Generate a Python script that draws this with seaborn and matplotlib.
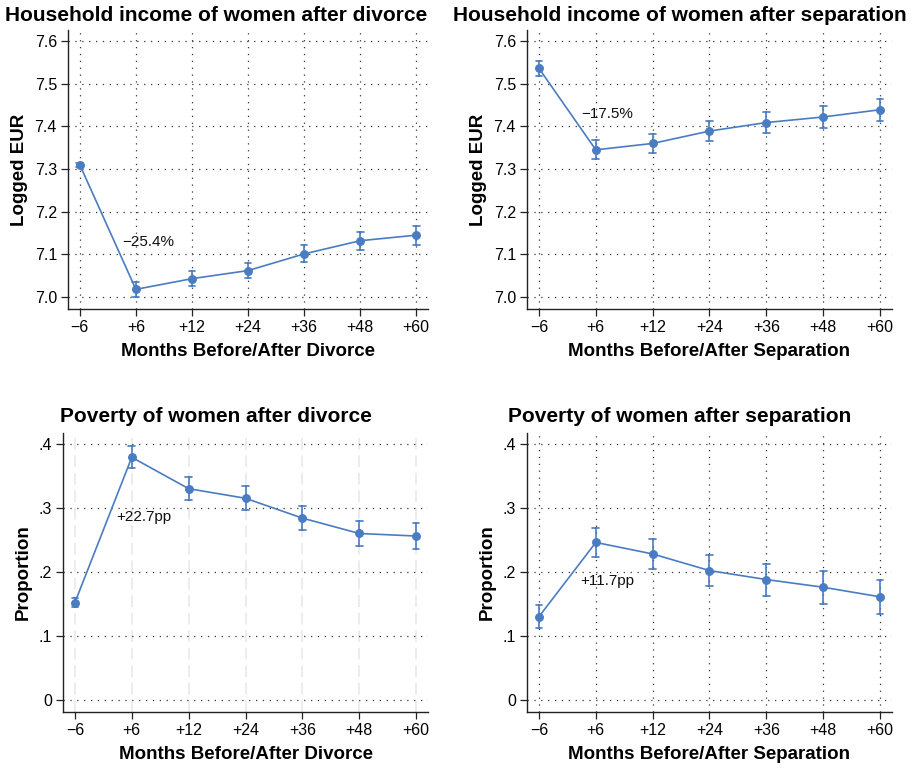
import numpy as np
import pandas as pd
import matplotlib
matplotlib.use("Agg")
import matplotlib.pyplot as plt
import seaborn as sns

months = ["\u22126", "+6", "+12", "+24", "+36", "+48", "+60"]

inc_div_mean = [7.310, 7.018, 7.043, 7.062, 7.101, 7.132, 7.145]
inc_div_ci = [0.005, 0.017, 0.018, 0.018, 0.020, 0.021, 0.022]
inc_sep_mean = [7.536, 7.345, 7.360, 7.389, 7.409, 7.422, 7.439]
inc_sep_ci = [0.017, 0.022, 0.023, 0.023, 0.024, 0.025, 0.026]
pov_div_mean = [0.152, 0.379, 0.330, 0.315, 0.284, 0.260, 0.256]
pov_div_ci = [0.0065, 0.017, 0.018, 0.0185, 0.019, 0.020, 0.021]
pov_sep_mean = [0.130, 0.246, 0.228, 0.202, 0.188, 0.176, 0.161]
pov_sep_ci = [0.0175, 0.023, 0.0235, 0.024, 0.025, 0.026, 0.027]

titles = ["Household income of women after divorce",
          "Household income of women after separation",
          "Poverty of women after divorce",
          "Poverty of women after separation"]
xlabels = ["Months Before/After Divorce", "Months Before/After Separation",
           "Months Before/After Divorce", "Months Before/After Separation"]
ylabels = ["Logged EUR", "Logged EUR", "Proportion", "Proportion"]
annots = ["\u221225.4%", "\u221217.5%", "+22.7pp", "+11.7pp"]
annot_pos = [(0.75, 7.13), (0.75, 7.428), (0.73, 0.2855), (0.72, 0.186)]

inc_ticks = [7.0, 7.1, 7.2, 7.3, 7.4, 7.5, 7.6]
inc_ticklabels = ["7.0", "7.1", "7.2", "7.3", "7.4", "7.5", "7.6"]
pov_ticks = [0, 0.1, 0.2, 0.3, 0.4]
pov_ticklabels = ["0", ".1", ".2", ".3", ".4"]

sns.set_style("white")
plt.rcParams["font.family"] = ["Liberation Sans", "DejaVu Sans"]
plt.rcParams["text.color"] = "black"
plt.rcParams["axes.labelcolor"] = "black"
plt.rcParams["xtick.color"] = "black"
plt.rcParams["ytick.color"] = "black"

BLUE = "#4a7cc2"

fig = plt.figure(figsize=(9.14, 7.68), dpi=100)
rects = [[0.0744, 0.5977, 0.3939, 0.3633],
         [0.5766, 0.5977, 0.3993, 0.3633],
         [0.0689, 0.0729, 0.3994, 0.3633],
         [0.5766, 0.0729, 0.3993, 0.3633]]
title_pos = [(216 / 914, 0.980), (680 / 914, 0.980), (216 / 914, 0.4574), (680 / 914, 0.4574)]

series = [(inc_div_mean, inc_div_ci), (inc_sep_mean, inc_sep_ci),
          (pov_div_mean, pov_div_ci), (pov_sep_mean, pov_sep_ci)]

for i, (mean, ci) in enumerate(series):
    ax = fig.add_axes(rects[i])
    m = np.array(mean)
    c = np.array(ci)
    rows = []
    for k, lab in enumerate(months):
        for v in (m[k] - c[k], m[k], m[k] + c[k]):
            rows.append({"month": lab, "value": v})
    df = pd.DataFrame(rows)
    sns.pointplot(data=df, x="month", y="value", order=months, ax=ax,
                  estimator="median", errorbar=("pi", 100), capsize=0.12,
                  color=BLUE, markersize=5.5, linewidth=1.2,
                  err_kws={"linewidth": 1.2})
    ax.set_xlim(-0.21, 6.21)
    if i < 2:
        ax.set_ylim(6.972, 7.626)
        ax.set_yticks(inc_ticks)
        ax.set_yticklabels(inc_ticklabels)
    else:
        ax.set_ylim(-0.019, 0.417)
        ax.set_yticks(pov_ticks)
        ax.set_yticklabels(pov_ticklabels)
    ax.set_xticks(range(len(months)))
    ax.set_xticklabels(months)
    ax.set_axisbelow(True)
    ax.yaxis.grid(True, linestyle=(0, (1, 4.5)), color="#333333", linewidth=0.9)
    if i == 2:
        ax.xaxis.grid(True, linestyle=(0, (6, 3)), color="#ececec", linewidth=1.4)
    else:
        ax.xaxis.grid(True, linestyle=(0, (1, 4.5)), color="#333333", linewidth=0.9)
    for s in ["top", "right"]:
        ax.spines[s].set_visible(False)
    for s in ["left", "bottom"]:
        ax.spines[s].set_color("#222222")
        ax.spines[s].set_linewidth(1.0)
    ax.tick_params(axis="both", which="major", direction="out", length=5, width=0.9,
                   color="#222222", labelsize=11.5, bottom=True, left=True, pad=3)
    ax.set_xlabel(xlabels[i], fontsize=13.5, fontweight="bold", labelpad=6)
    ax.set_ylabel(ylabels[i], fontsize=13.5, fontweight="bold", labelpad=5)
    ax.text(annot_pos[i][0], annot_pos[i][1], annots[i], fontsize=11,
            ha="left", va="center", color="#111111")
    fig.text(title_pos[i][0], title_pos[i][1], titles[i], fontsize=15,
             fontweight="bold", ha="center", va="center")

fig.savefig("out.png", dpi=100)
